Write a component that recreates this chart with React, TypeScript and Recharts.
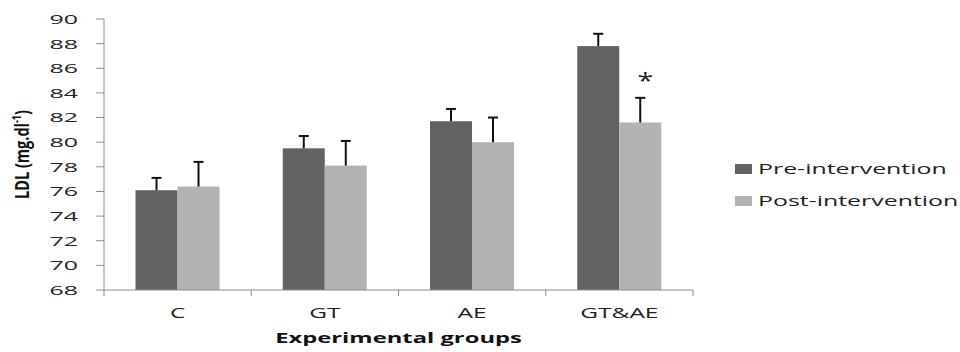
import { BarChart, Bar, XAxis, YAxis, Legend, Label } from 'recharts'

const groups = ['C', 'GT', 'AE', 'GT&AE']
const seriesNames = ['Pre-intervention', 'Post-intervention']
const preValues = [76.1, 79.5, 81.7, 87.8]
const postValues = [76.4, 78.1, 80.0, 81.6]
const preErrors = [1.0, 1.0, 1.0, 1.0]
const postErrors = [2.0, 2.0, 2.0, 2.0]
const postMarks = ['', '', '', '*']
const yTicks = [68, 70, 72, 74, 76, 78, 80, 82, 84, 86, 88, 90]

const Y_MIN = 68
const Y_MAX = 90
const FONT = '"Open Sans", sans-serif'
const AXIS = '#8c8c8c'
const PRE = '#626262'
const POST = '#b2b2b2'

const data = groups.map((g, i) => ({
  group: g,
  pre: preValues[i],
  post: postValues[i],
  preErr: preErrors[i],
  postErr: postErrors[i],
  postMark: postMarks[i],
}))

// bar + one-sided (upward) error bar, scaled from the bar's own geometry
const makeShape = (valueKey: string, errKey: string, markKey?: string) => (props: any) => {
  const { x, y, width, height, fill, payload } = props
  const v = payload[valueKey]
  const pxPerUnit = height / (v - Y_MIN)
  const top = y - payload[errKey] * pxPerUnit
  const cx = x + width / 2
  const mark = markKey ? payload[markKey] : ''
  return (
    <g>
      <rect x={x} y={y} width={width} height={height} fill={fill} />
      <line x1={cx} x2={cx} y1={y} y2={top} stroke="#111" strokeWidth={2} />
      <line x1={cx - 5} x2={cx + 5} y1={top} y2={top} stroke="#111" strokeWidth={2} />
      {mark && (
        <g transform={`translate(${cx + 5},${top - 10}) scale(1.3,1)`}>
          <text textAnchor="middle" fontFamily={FONT} fontSize={22} fill="#222">{mark}</text>
        </g>
      )}
    </g>
  )
}

const YTick = ({ x, y, payload }: any) => (
  <g transform={`translate(${x},${y}) scale(1.85,1)`}>
    <text x={0} y={0} dy="0.36em" textAnchor="end" fontFamily={FONT} fontSize={13.5} fill="#222">
      {payload.value}
    </text>
  </g>
)

const XTick = ({ x, y, payload }: any) => {
  const off = payload.offset ?? 73.6
  const last = payload.value === groups[groups.length - 1]
  return (
    <g>
      <line x1={x - off} x2={x - off} y1={y} y2={y + 6} stroke={AXIS} />
      {last && <line x1={x + off} x2={x + off} y1={y} y2={y + 6} stroke={AXIS} />}
      <g transform={`translate(${x},${y + 28}) scale(1.75,1)`}>
        <text textAnchor="middle" fontFamily={FONT} fontSize={14} fill="#222">{payload.value}</text>
      </g>
    </g>
  )
}

const YLabel = ({ viewBox }: any) => {
  const cy = viewBox.y + viewBox.height / 2
  return (
    <g transform={`translate(${viewBox.x + 29},${cy}) rotate(-90) scale(1,1.4)`}>
      <text textAnchor="middle" fontFamily={FONT} fontWeight={700} fontSize={14.5} fill="#111">
        LDL (mg.dl<tspan fontSize={9} dy={-6}>-1</tspan><tspan dy={6}>)</tspan>
      </text>
    </g>
  )
}

const XLabel = ({ viewBox }: any) => (
  <g transform={`translate(${viewBox.x + viewBox.width / 2},${viewBox.y + 53}) scale(1.64,1)`}>
    <text textAnchor="middle" fontFamily={FONT} fontWeight={700} fontSize={14.5} fill="#111">
      Experimental groups
    </text>
  </g>
)

const LegendBox = ({ payload }: any) => {
  const items = [...(payload || [])].sort(
    (a: any, b: any) => seriesNames.indexOf(a.value) - seriesNames.indexOf(b.value),
  )
  return (
    <div style={{ width: 225, height: 60 }}>
      <svg width={225} height={60}>
        {items.map((p: any, i: number) => (
          <g key={p.value} transform={`translate(0,${i * 32})`}>
            <rect x={0} y={9} width={17} height={10} fill={p.color} />
            <g transform="translate(23,19) scale(1.66,1)">
              <text fontFamily={FONT} fontSize={15} fill="#222">{p.value}</text>
            </g>
          </g>
        ))}
      </svg>
    </div>
  )
}

export default function App() {
  return (
    <div style={{ position: 'absolute', left: 0, top: 0, background: '#fff' }}>
      <BarChart
        width={960}
        height={352}
        data={data}
        margin={{ top: 19, right: 42, bottom: 0, left: 0 }}
        barCategoryGap="21.4%"
        barGap={0}
      >
        <XAxis
          dataKey="group"
          height={62}
          stroke={AXIS}
          tickLine={false}
          tickSize={0}
          tickMargin={0}
          tick={<XTick />}
          interval={0}
        >
          <Label content={<XLabel />} />
        </XAxis>
        <YAxis
          width={104}
          domain={[Y_MIN, Y_MAX]}
          ticks={yTicks}
          interval={0}
          stroke={AXIS}
          tickSize={8}
          tickMargin={18}
          tick={<YTick />}
        >
          <Label content={<YLabel />} />
        </YAxis>
        <Legend
          layout="vertical"
          align="right"
          verticalAlign="middle"
          content={<LegendBox />}
          wrapperStyle={{ left: 735, top: 155, width: 225 }}
        />
        <Bar dataKey="pre" name={seriesNames[0]} fill={PRE} isAnimationActive={false} shape={makeShape('pre', 'preErr')} />
        <Bar dataKey="post" name={seriesNames[1]} fill={POST} isAnimationActive={false} shape={makeShape('post', 'postErr', 'postMark')} />
      </BarChart>
    </div>
  )
}
